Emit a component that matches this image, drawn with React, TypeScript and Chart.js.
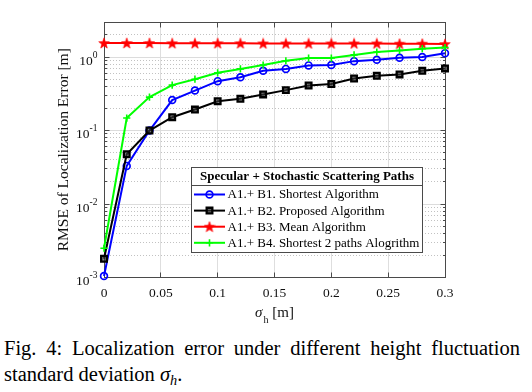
import React, { useEffect, useRef } from 'react';
import { Chart, registerables } from 'chart.js';
import { drawPoint } from 'chart.js/helpers';

Chart.register(...registerables);

// ---------- data ----------
const sigmaH = [0, 0.02, 0.04, 0.06, 0.08, 0.1, 0.12, 0.14, 0.16, 0.18, 0.2, 0.22, 0.24, 0.26, 0.28, 0.3];
const shortestRmse = [0.00105, 0.033, 0.1, 0.26, 0.35, 0.47, 0.53, 0.65, 0.69, 0.77, 0.78, 0.88, 0.92, 0.98, 1.0, 1.13];
const proposedRmse = [0.0018, 0.0475, 0.1, 0.152, 0.193, 0.25, 0.27, 0.31, 0.355, 0.41, 0.43, 0.51, 0.556, 0.58, 0.65, 0.7];
const meanRmse = [1.55, 1.55, 1.55, 1.54, 1.54, 1.54, 1.54, 1.53, 1.53, 1.53, 1.53, 1.53, 1.53, 1.52, 1.52, 1.5];
const shortest2Rmse = [0.0025, 0.148, 0.285, 0.415, 0.5, 0.61, 0.69, 0.78, 0.89, 0.97, 0.97, 1.07, 1.17, 1.23, 1.3, 1.35];

const seriesLabels = [
  'A1.+ B1. Shortest Algorithm',
  'A1.+ B2. Proposed Algorithm',
  'A1.+ B3. Mean Algorithm',
  'A1.+ B4. Shortest 2 paths Alogrithm',
];
const legendTitle = 'Specular + Stochastic Scattering Paths';

const xTickValues = [0, 0.05, 0.1, 0.15, 0.2, 0.25, 0.3];
const xTickLabels = ['0', '0.05', '0.1', '0.15', '0.2', '0.25', '0.3'];
const yDecades = [0.001, 0.01, 0.1, 1];
const yDecadeExponents = ['-3', '-2', '-1', '0'];
const yMinorSteps = [2, 3, 4, 5, 6, 7, 8, 9];
const xMin = 0;
const xMax = 0.3;
const yMin = 0.001;
const yMax = 3;

const yAxisTitle = 'RMSE of Localization Error [m]';
const xAxisSymbol = 'σ';
const xAxisSub = 'h';
const xAxisUnit = ' [m]';

const FONT = "'Liberation Serif', 'Times New Roman', serif";

function makeStar(color: string): HTMLCanvasElement {
  const c = document.createElement('canvas');
  const s = 12;
  c.width = s;
  c.height = s;
  const g = c.getContext('2d')!;
  const cx = s / 2;
  const cy = s / 2 + 0.4;
  const ro = 5.6;
  const ri = 2.3;
  g.beginPath();
  for (let i = 0; i < 10; i++) {
    const r = i % 2 === 0 ? ro : ri;
    const a = -Math.PI / 2 + (i * Math.PI) / 5;
    const px = cx + r * Math.cos(a);
    const py = cy + r * Math.sin(a);
    if (i === 0) g.moveTo(px, py);
    else g.lineTo(px, py);
  }
  g.closePath();
  g.fillStyle = color;
  g.fill();
  g.strokeStyle = color;
  g.lineWidth = 0.6;
  g.stroke();
  return c;
}

const al = (p: number) => Math.floor(p) + 0.5;

const decorPlugin = {
  id: 'decor',
  beforeDatasetsDraw(chart: any) {
    const { ctx, chartArea } = chart;
    const xs = chart.scales.x;
    const ys = chart.scales.y;
    const L = al(chartArea.left);
    const R = al(chartArea.right);
    const T = al(chartArea.top);
    const B = al(chartArea.bottom);
    ctx.save();
    ctx.strokeStyle = '#4a4a4a';
    ctx.lineWidth = 1;
    // ticks
    ctx.beginPath();
    xTickValues.forEach((v) => {
      const px = al(xs.getPixelForValue(v));
      ctx.moveTo(px, B);
      ctx.lineTo(px, B - 5);
      ctx.moveTo(px, T);
      ctx.lineTo(px, T + 5);
    });
    yDecades.forEach((d) => {
      const py = al(ys.getPixelForValue(d));
      ctx.moveTo(L, py);
      ctx.lineTo(L + 5, py);
      ctx.moveTo(R, py);
      ctx.lineTo(R - 5, py);
      yMinorSteps.forEach((m) => {
        const v = d * m;
        if (v >= yMax) return;
        const q = al(ys.getPixelForValue(v));
        ctx.moveTo(L, q);
        ctx.lineTo(L + 2.5, q);
        ctx.moveTo(R, q);
        ctx.lineTo(R - 2.5, q);
      });
    });
    ctx.stroke();
    // box
    ctx.strokeRect(L, T, R - L, B - T);

    // x tick labels
    ctx.fillStyle = '#111';
    ctx.font = `13.5px ${FONT}`;
    ctx.textAlign = 'center';
    ctx.textBaseline = 'alphabetic';
    xTickValues.forEach((v, i) => {
      ctx.fillText(xTickLabels[i], xs.getPixelForValue(v), chartArea.bottom + 19);
    });
    // y tick labels 10^n
    yDecades.forEach((d, i) => {
      const py = ys.getPixelForValue(d);
      const rightEdge = 97.5;
      ctx.font = `9.5px ${FONT}`;
      ctx.textAlign = 'right';
      const ew = ctx.measureText(yDecadeExponents[i]).width;
      ctx.fillText(yDecadeExponents[i], rightEdge, py + 0.8);
      ctx.font = `13.5px ${FONT}`;
      ctx.fillText('10', rightEdge - ew, py + 7.6);
    });
    // y axis title
    ctx.save();
    ctx.translate(68, (chartArea.top + chartArea.bottom) / 2);
    ctx.rotate(-Math.PI / 2);
    ctx.font = `15.5px ${FONT}`;
    ctx.textAlign = 'center';
    ctx.textBaseline = 'alphabetic';
    ctx.fillText(yAxisTitle, 0, 0);
    ctx.restore();
    // x axis title
    const cx = (chartArea.left + chartArea.right) / 2;
    ctx.textAlign = 'left';
    ctx.font = `italic 15px ${FONT}`;
    const w1 = ctx.measureText(xAxisSymbol).width;
    ctx.font = `10px ${FONT}`;
    const w2 = ctx.measureText(xAxisSub).width;
    ctx.font = `15px ${FONT}`;
    const w3 = ctx.measureText(xAxisUnit).width;
    let x0 = cx - (w1 + w2 + 1 + w3) / 2;
    const by = 317;
    ctx.font = `italic 15px ${FONT}`;
    ctx.fillText(xAxisSymbol, x0, by);
    x0 += w1 + 1;
    ctx.font = `10px ${FONT}`;
    ctx.fillText(xAxisSub, x0, by + 6);
    x0 += w2;
    ctx.font = `15px ${FONT}`;
    ctx.fillText(xAxisUnit, x0, by);
    ctx.restore();
  },
  afterDatasetsDraw(chart: any) {
    const { ctx } = chart;
    ctx.save();
    const lx0 = 191.5;
    const lx1 = 422.5;
    const ly0 = 167.5;
    const ly1 = 252.5;
    const sep = 185.5;
    ctx.fillStyle = '#fff';
    ctx.fillRect(lx0, ly0, lx1 - lx0, ly1 - ly0);
    ctx.strokeStyle = '#4a4a4a';
    ctx.lineWidth = 1;
    ctx.strokeRect(lx0, ly0, lx1 - lx0, ly1 - ly0);
    ctx.beginPath();
    ctx.moveTo(lx0, sep);
    ctx.lineTo(lx1, sep);
    ctx.stroke();
    ctx.fillStyle = '#000';
    ctx.font = `bold 13px ${FONT}`;
    ctx.textAlign = 'center';
    ctx.textBaseline = 'middle';
    ctx.fillText(legendTitle, (lx0 + lx1) / 2, 177);
    chart.data.datasets.forEach((ds: any, i: number) => {
      const y = 194.5 + i * 16.1;
      ctx.strokeStyle = ds.borderColor;
      ctx.lineWidth = ds.borderWidth;
      ctx.beginPath();
      ctx.moveTo(194, y);
      ctx.lineTo(225, y);
      ctx.stroke();
      ctx.strokeStyle = ds.pointBorderColor;
      ctx.fillStyle = ds.pointBackgroundColor;
      ctx.lineWidth = ds.pointBorderWidth;
      drawPoint(ctx, { pointStyle: ds.pointStyle, radius: ds.pointRadius, rotation: 0, borderWidth: ds.pointBorderWidth }, 209.5, y);
      ctx.fillStyle = '#000';
      ctx.font = `13px ${FONT}`;
      ctx.textAlign = 'left';
      ctx.textBaseline = 'middle';
      ctx.fillText(ds.label, 227.5, y + 0.5);
    });
    ctx.restore();
  },
};

export default function App() {
  const ref = useRef<HTMLCanvasElement | null>(null);
  useEffect(() => {
    if (!ref.current) return;
    const star = makeStar('#ff0000');
    const pts = (arr: number[]) => sigmaH.map((x, i) => ({ x, y: arr[i] }));
    const chart = new Chart(ref.current, {
      type: 'line',
      data: {
        datasets: [
          {
            label: seriesLabels[0],
            data: pts(shortestRmse),
            borderColor: '#0000ff',
            borderWidth: 2,
            pointStyle: 'circle',
            pointRadius: 3.4,
            pointBorderWidth: 1.7,
            pointBorderColor: '#0000ff',
            pointBackgroundColor: 'rgba(0,0,0,0)',
            clip: false,
            order: 3,
          },
          {
            label: seriesLabels[1],
            data: pts(proposedRmse),
            borderColor: '#000000',
            borderWidth: 2,
            pointStyle: 'rect',
            pointRadius: 4,
            pointBorderWidth: 2.3,
            pointBorderColor: '#000000',
            pointBackgroundColor: 'rgba(60,60,60,0.6)',
            clip: false,
            order: 2,
          },
          {
            label: seriesLabels[2],
            data: pts(meanRmse),
            borderColor: '#ff0000',
            borderWidth: 2,
            pointStyle: star,
            pointRadius: 5,
            pointBorderWidth: 1,
            pointBorderColor: '#ff0000',
            pointBackgroundColor: '#ff0000',
            clip: false,
            order: 1,
          },
          {
            label: seriesLabels[3],
            data: pts(shortest2Rmse),
            borderColor: '#00ff00',
            borderWidth: 2,
            pointStyle: 'cross',
            pointRadius: 3.6,
            pointBorderWidth: 1.6,
            pointBorderColor: '#00ff00',
            pointBackgroundColor: '#00ff00',
            clip: false,
            order: 0,
          },
        ] as any,
      },
      options: {
        responsive: false,
        animation: false,
        devicePixelRatio: 1,
        events: [],
        layout: { padding: { left: 0, right: 87, top: 22, bottom: 0 } },
        plugins: { legend: { display: false }, tooltip: { enabled: false }, title: { display: false } },
        elements: { line: { tension: 0 } },
        scales: {
          x: {
            type: 'linear',
            min: xMin,
            max: xMax,
            ticks: { display: false, autoSkip: false },
            grid: { color: '#dedede', lineWidth: 1, drawTicks: false },
            border: { display: false },
            afterBuildTicks: (s: any) => {
              s.ticks = xTickValues.map((v) => ({ value: v }));
            },
            afterFit: (s: any) => {
              s.height = 52.5;
            },
          },
          y: {
            type: 'logarithmic',
            min: yMin,
            max: yMax,
            ticks: { display: false, autoSkip: false },
            grid: {
              drawTicks: false,
              lineWidth: 1,
              color: (c: any) => (c.tick && c.tick.major ? '#dcdcdc' : '#c2c2c2'),
            },
            border: {
              display: false,
              dash: (c: any) => (c.tick && c.tick.major ? [] : [1, 2]),
            },
            afterBuildTicks: (s: any) => {
              const t: any[] = [];
              yDecades.forEach((d) => {
                t.push({ value: d, major: true });
                yMinorSteps.forEach((m) => {
                  if (d * m < yMax) t.push({ value: d * m, major: false });
                });
              });
              s.ticks = t;
            },
            afterFit: (s: any) => {
              s.width = 104;
            },
          },
        },
      } as any,
      plugins: [decorPlugin],
    });
    return () => chart.destroy();
  }, []);

  return (
    <div style={{ position: 'fixed', left: 0, top: 0, width: 532, height: 392, background: '#fff', overflow: 'hidden' }}>
      <canvas ref={ref} width={532} height={330} style={{ position: 'absolute', left: 0, top: 0, width: 532, height: 330, display: 'block' }} />
      <div
        style={{
          position: 'absolute',
          left: 4,
          top: 336,
          width: 516,
          fontFamily: FONT,
          fontSize: '20.5px',
          lineHeight: '25.5px',
          textAlign: 'justify',
          color: '#000',
        }}
      >
        Fig. 4: Localization error under different height fluctuation standard deviation{' '}
        <i>σ</i>
        <sub style={{ fontSize: '0.7em', lineHeight: 0, verticalAlign: '-0.25em' }}>
          <i>h</i>
        </sub>
        .
      </div>
    </div>
  );
}
